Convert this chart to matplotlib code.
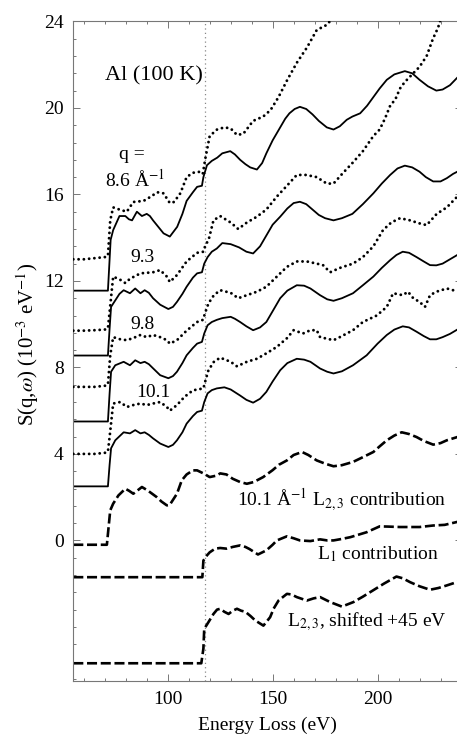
import matplotlib
matplotlib.use("Agg")
import matplotlib.pyplot as plt
import numpy as np

plt.rcParams['font.family'] = ['Liberation Serif', 'DejaVu Serif']
plt.rcParams['mathtext.fontset'] = 'stix'

# ---------------- data ----------------
# experimental q = 8.6 1/A
e86_x = [55, 60, 65, 70, 71.5, 72.6, 74, 77, 80.5, 83.6, 88.5, 92, 95, 98, 101, 103, 106, 109, 112,
         115.5, 116.7, 118, 119, 120, 123.5, 127, 130, 133, 136, 140.7, 145.5, 149, 152.8, 157,
         161.6, 166.4, 171, 176, 178, 180]
e86_y = [13.0, 13.0, 13.05, 13.1, 13.15, 14.8, 15.4, 15.3, 15.2, 15.65, 15.7, 15.9, 16.1, 16.05, 15.6,
         15.65, 16.05, 16.8, 17.0, 17.05, 16.95, 17.7, 18.2, 18.7, 19.0, 19.1, 19.05, 18.75, 18.8, 19.4,
         19.6, 19.9, 20.5, 21.3, 22.1, 22.8, 23.6, 23.85, 24.1, 24.6]
# theory q = 8.6
t86_x = [55, 71.5, 72.3, 72.8, 74, 77, 79.8, 81.5, 83, 85.3, 87.7, 90, 91.5, 93, 95.5, 98, 101, 104.5,
         107, 109, 112, 114, 116.3, 117, 118.7, 121, 123.6, 126, 129.8, 132, 134.5, 137, 139.3, 142.5,
         145, 147, 150, 153.6, 156, 158, 160.5, 163, 166, 169, 172, 175.8, 179, 182, 185.3, 188, 191.7,
         195, 198, 201, 204.4, 208, 213, 216.5, 220, 224, 228, 231, 234.5, 238, 240]
t86_y = [11.55, 11.55, 13.0, 13.9, 14.35, 15.0, 15.0, 14.85, 14.8, 15.2, 15.0, 15.1, 15.0, 14.8, 14.5,
         14.2, 14.05, 14.5, 15.1, 15.7, 16.1, 16.35, 16.4, 16.8, 17.35, 17.55, 17.7, 17.9, 18.0, 17.85,
         17.6, 17.4, 17.25, 17.15, 17.45, 17.9, 18.5, 19.1, 19.5, 19.75, 19.95, 20.05, 19.95, 19.7, 19.4,
         19.1, 19.0, 19.15, 19.45, 19.6, 19.75, 20.1, 20.5, 20.9, 21.3, 21.55, 21.7, 21.6, 21.3, 21.0,
         20.8, 20.85, 21.05, 21.4, 21.6]
# experimental q = 9.3
e93_x = [55, 60, 65, 70, 71.5, 72.6, 74, 77.4, 79.8, 82, 87, 93, 96.4, 99.6, 101, 104.4, 109, 114, 117,
         118, 119.5, 121.8, 125, 130, 133.6, 137.7, 142.5, 147, 152, 156.8, 161.5, 166, 171, 175.8,
         179, 183.6, 188, 193, 198, 201, 203.5, 206, 208.5, 210.7, 213, 215.5, 220, 223.4, 226.4, 228.8, 231]
e93_y = [9.7, 9.7, 9.72, 9.75, 9.8, 10.85, 12.2, 12.05, 11.9, 12.1, 12.35, 12.4, 12.5, 12.2, 11.95,
         12.27, 12.9, 13.3, 13.35, 13.66, 13.9, 14.8, 15.0, 14.7, 14.4, 14.7, 14.97, 15.3, 15.9, 16.4,
         16.9, 16.9, 16.8, 16.5, 16.5, 17.0, 17.45, 18.0, 18.7, 19.0, 19.5, 20.1, 20.4, 20.9, 21.2, 21.45,
         21.9, 22.4, 23.2, 23.7, 24.4]
# theory q = 9.3
t93_x = [55, 71.5, 72.3, 73, 75, 77, 79, 82, 84.5, 87, 89, 91, 93, 96.4, 100.3, 102.5, 104.4, 107, 109,
         112, 114, 116.3, 117.4, 119, 121, 123.4, 126, 130, 134, 137.5, 140.7, 144, 147, 150, 153.6, 157,
         160, 163, 166, 169, 172, 175, 179, 183, 188, 193, 198, 202, 206, 209.5, 213, 216.5, 220, 223,
         226.5, 230, 233, 236, 238, 240]
t93_y = [8.55, 8.55, 9.8, 10.8, 11.1, 11.4, 11.57, 11.43, 11.65, 11.43, 11.57, 11.45, 11.2, 10.9, 10.7,
         10.8, 11.03, 11.4, 11.73, 12.15, 12.35, 12.4, 12.8, 13.1, 13.35, 13.5, 13.75, 13.7, 13.55, 13.35,
         13.27, 13.6, 14.1, 14.6, 14.97, 15.35, 15.6, 15.66, 15.55, 15.3, 15.05, 14.9, 14.8, 14.9, 15.1,
         15.55, 16.05, 16.5, 16.9, 17.2, 17.33, 17.25, 17.05, 16.8, 16.6, 16.6, 16.75, 16.95, 17.05, 17.25]
# experimental q = 9.8
e98_x = [55, 60, 65, 70, 71.5, 72.6, 74, 77.4, 80.5, 83.6, 87, 90, 93, 96.4, 99.6, 101, 104.4, 109, 114,
         116.8, 118, 119.4, 122, 125, 130, 133.6, 137.7, 142.5, 147, 152, 156.8, 161.5, 166.3, 171, 174,
         177.4, 182, 188.3, 193, 198, 202.6, 206.5, 210.7, 215.5, 220, 223.4, 228.2, 233, 238, 240]
e98_y = [7.1, 7.1, 7.1, 7.15, 7.2, 8.56, 9.4, 9.3, 9.26, 9.36, 9.5, 9.4, 9.5, 9.4, 9.26, 9.1, 9.26, 9.7,
         10.1, 10.2, 10.57, 10.96, 11.34, 11.57, 11.45, 11.2, 11.34, 11.5, 11.73, 12.2, 12.65, 12.9, 12.9,
         12.8, 12.73, 12.4, 12.6, 12.8, 13.1, 13.6, 14.35, 14.7, 14.9, 14.8, 14.66, 14.58, 15.1, 15.4,
         15.9, 16.0]
# theory q = 9.8
t98_x = [55, 71.5, 72.3, 73, 75, 79, 82, 84.5, 87, 89, 91, 93, 96.4, 100.3, 102.5, 104.4, 107, 109, 112,
         114, 116.3, 117.4, 119, 121, 123.4, 126, 130, 132, 134.5, 137.5, 140.7, 144, 147, 150, 153.6,
         157, 161.5, 165, 168, 172.6, 176, 179, 183, 188.3, 193, 198, 202, 206, 209, 212, 215, 218.6,
         222, 225, 228, 231, 234.5, 238, 240]
t98_y = [5.5, 5.5, 6.8, 7.8, 8.1, 8.26, 8.1, 8.33, 8.2, 8.26, 8.15, 7.96, 7.64, 7.5, 7.6, 7.8, 8.2, 8.56,
         8.9, 9.1, 9.18, 9.57, 9.95, 10.1, 10.2, 10.28, 10.34, 10.25, 10.1, 9.9, 9.72, 9.85, 10.1, 10.6,
         11.2, 11.55, 11.8, 11.78, 11.65, 11.34, 11.15, 11.08, 11.2, 11.43, 11.8, 12.2, 12.6, 12.96, 13.2,
         13.35, 13.3, 13.1, 12.9, 12.73, 12.72, 12.8, 13.0, 13.2, 13.35]
# experimental q = 10.1
e101_x = [55, 60, 65, 70, 71.5, 72.6, 74, 77.4, 80.5, 83.6, 87, 90, 93, 96.4, 99.6, 101, 104.4, 108, 112,
          117, 118, 119.4, 122, 125, 130, 133, 137.7, 142.5, 147, 152, 156.8, 160, 164.5, 168, 171, 172.6,
          175.8, 179, 182, 188.3, 193, 199.6, 204.4, 207.4, 212, 214.5, 217, 220, 222.6, 225, 228, 233,
          236, 240]
e101_y = [4.0, 4.0, 4.0, 4.05, 4.1, 5.05, 6.33, 6.4, 6.17, 6.26, 6.33, 6.26, 6.33, 6.4, 6.17, 6.0, 6.26,
          6.64, 6.94, 7.03, 7.4, 7.87, 8.26, 8.45, 8.26, 8.05, 8.26, 8.4, 8.65, 8.95, 9.35, 9.72, 9.57,
          9.72, 9.72, 9.4, 9.33, 9.26, 9.4, 9.72, 10.1, 10.4, 10.8, 11.43, 11.34, 11.5, 11.2, 11.03, 10.8,
          11.34, 11.5, 11.65, 11.57, 11.6]
# theory q = 10.1
t101_x = [55, 71.5, 72.3, 73, 75, 79, 82, 84.5, 87, 89, 91, 93, 96.4, 100.3, 102.5, 104.4, 107, 109, 112,
          114, 116.3, 117.4, 119, 121, 123.4, 127, 130, 134.5, 137.5, 140.7, 144, 147, 150, 153.6, 157,
          161.5, 165, 168, 172.6, 176, 179, 183, 188.3, 194.8, 200, 204.4, 208, 212, 215, 218.6, 222, 225,
          228, 231, 234.5, 238, 240]
t101_y = [2.5, 2.5, 3.5, 4.26, 4.63, 5.0, 4.95, 5.1, 4.95, 5.0, 4.88, 4.72, 4.48, 4.32, 4.42, 4.63, 5.0,
          5.4, 5.75, 5.94, 6.0, 6.4, 6.8, 6.95, 7.03, 7.08, 6.98, 6.7, 6.5, 6.37, 6.55, 6.87, 7.35, 7.87,
          8.2, 8.4, 8.36, 8.26, 7.95, 7.8, 7.72, 7.82, 8.1, 8.56, 9.1, 9.5, 9.75, 9.9, 9.85, 9.65, 9.45,
          9.3, 9.3, 9.4, 9.55, 9.75, 9.85]
# 10.1 1/A L2,3 contribution
l23_x = [55, 71, 72.6, 74, 76.5, 79.8, 81.5, 83.6, 87.7, 90.6, 94.8, 97, 99.6, 101, 104.4, 106.7, 109,
         112, 114, 117, 120, 123.4, 125, 128, 131, 134.5, 137.7, 141, 145.5, 150, 153, 156.8, 160, 164,
         167, 171, 175, 179, 183, 188.3, 193, 198, 201, 204.4, 208, 211.5, 215, 218.6, 222, 226.5, 230,
         233, 238, 240]
l23_y = [-0.2, -0.2, 1.39, 1.7, 2.08, 2.39, 2.3, 2.16, 2.47, 2.3, 2.0, 1.8, 1.62, 1.65, 2.16, 2.78, 3.05,
         3.24, 3.24, 3.1, 2.93, 3.0, 3.1, 3.05, 2.85, 2.7, 2.62, 2.7, 2.93, 3.25, 3.5, 3.7, 3.95, 4.09,
         3.95, 3.7, 3.55, 3.43, 3.48, 3.63, 3.85, 4.09, 4.35, 4.63, 4.85, 5.0, 4.92, 4.78, 4.6, 4.43, 4.5,
         4.63, 4.78, 4.85]
# L1 contribution
l1_x = [55, 116.5, 117, 118.7, 120, 122.6, 125, 128, 131, 134.5, 137, 139, 143, 147, 150, 152, 156.8,
        160, 163, 168, 172.6, 176, 179, 183, 187, 194.8, 201, 205, 210.7, 220, 226.5, 232, 237.7, 240]
l1_y = [-1.7, -1.7, -0.93, -0.69, -0.55, -0.38, -0.35, -0.38, -0.3, -0.23, -0.3, -0.4, -0.65, -0.46,
        -0.2, 0.0, 0.19, 0.1, 0.0, -0.03, 0.05, 0.0, 0.0, 0.07, 0.15, 0.38, 0.65, 0.64, 0.62, 0.62, 0.69,
        0.72, 0.85, 0.9]
# L2,3 shifted +45 eV
sh_x = [55, 116, 117, 117.4, 119.4, 121.8, 123.5, 125, 127, 129, 131, 133, 135, 137, 139.5, 141.7, 145.6,
        148.8, 150.5, 152.8, 156.8, 159, 161.5, 166.3, 169.5, 172.6, 177.4, 183, 188.5, 193, 198, 203,
        209, 212, 215.5, 220, 225, 229, 233, 237.7, 240]
sh_y = [-5.68, -5.68, -5.0, -4.09, -3.78, -3.4, -3.2, -3.16, -3.3, -3.4, -3.25, -3.16, -3.25, -3.3, -3.5,
        -3.7, -3.94, -3.55, -3.15, -2.78, -2.47, -2.5, -2.62, -2.78, -2.68, -2.62, -2.85, -3.06, -2.85,
        -2.6, -2.3, -2.0, -1.67, -1.75, -1.93, -2.12, -2.28, -2.2, -2.08, -1.93, -1.85]

edge_ev = 117.6
y_ticks = [0, 4, 8, 12, 16, 20, 24]
x_ticks = [100, 150, 200]

# ---------------- figure ----------------
fig = plt.figure(figsize=(4.57, 7.34), dpi=100)
ax = fig.add_axes([73.3 / 457, 53 / 734, 388.2 / 457, 659.6 / 734])
ax.set_xlim(55, 240)
ax.set_ylim(-6.5, 24)

ax.axvline(edge_ev, color='#888888', lw=0.9, ls=(0, (1, 2.5)), zorder=1)

dot_kw = dict(color='black', lw=2.1, ls=(0, (0.01, 1.8)), dash_capstyle='round', zorder=3)
for xs, ys in [(e86_x, e86_y), (e93_x, e93_y), (e98_x, e98_y), (e101_x, e101_y)]:
    ax.plot(xs, ys, **dot_kw)

for xs, ys in [(t86_x, t86_y), (t93_x, t93_y), (t98_x, t98_y), (t101_x, t101_y)]:
    ax.plot(xs, ys, color='black', lw=1.3, zorder=2)

dash_kw = dict(color='black', lw=1.9, dashes=(3.8, 1.4), dash_capstyle='butt', zorder=2)
for xs, ys in [(l23_x, l23_y), (l1_x, l1_y), (sh_x, sh_y)]:
    ax.plot(xs, ys, **dash_kw)

# ticks
ax.set_xticks(x_ticks)
ax.set_xticks(np.arange(60, 241, 10), minor=True)
ax.set_yticks(y_ticks)
ax.set_yticks(np.arange(-6.4, 24.01, 0.8), minor=True)
ax.tick_params(which='both', direction='in', top=True, right=True, color='#777777', width=0.7)
ax.tick_params(which='major', length=5, labelsize=14, pad=7)
ax.tick_params(which='minor', length=2.5)
for s in ax.spines.values():
    s.set_color('#777777')
    s.set_linewidth(0.8)

# texts
ax.text(93.5, 21.5, 'Al (100 K)', fontsize=16, ha='center', va='center')
ax.text(83, 17.85, 'q =', fontsize=14, ha='center', va='center')
ax.text(84.5, 16.7, '8.6 Å$^{-1}$', fontsize=14, ha='center', va='center')
ax.text(87.8, 13.1, '9.3', fontsize=14, ha='center', va='center')
ax.text(87.8, 9.98, '9.8', fontsize=14, ha='center', va='center')
ax.text(93.1, 6.84, '10.1', fontsize=14, ha='center', va='center')
ax.text(182.8, 1.9, '10.1 Å$^{-1}$ L$_{2,3}$ contribution', fontsize=14, ha='center', va='center')
ax.text(200, -0.65, 'L$_1$ contribution', fontsize=14, ha='center', va='center')
ax.text(194.8, -3.74, 'L$_{2,3}$, shifted +45 eV', fontsize=14, ha='center', va='center')

fig.text(27.5 / 457, 1 - 344 / 734, 'S(q,$\\omega$) (10$^{-3}$ eV$^{-1}$)', rotation=90,
         fontsize=15, ha='center', va='center')
fig.text(267 / 457, 1 - 717 / 734, 'Energy Loss (eV)', fontsize=14, ha='center', va='top')

fig.savefig('out.png', dpi=100)
